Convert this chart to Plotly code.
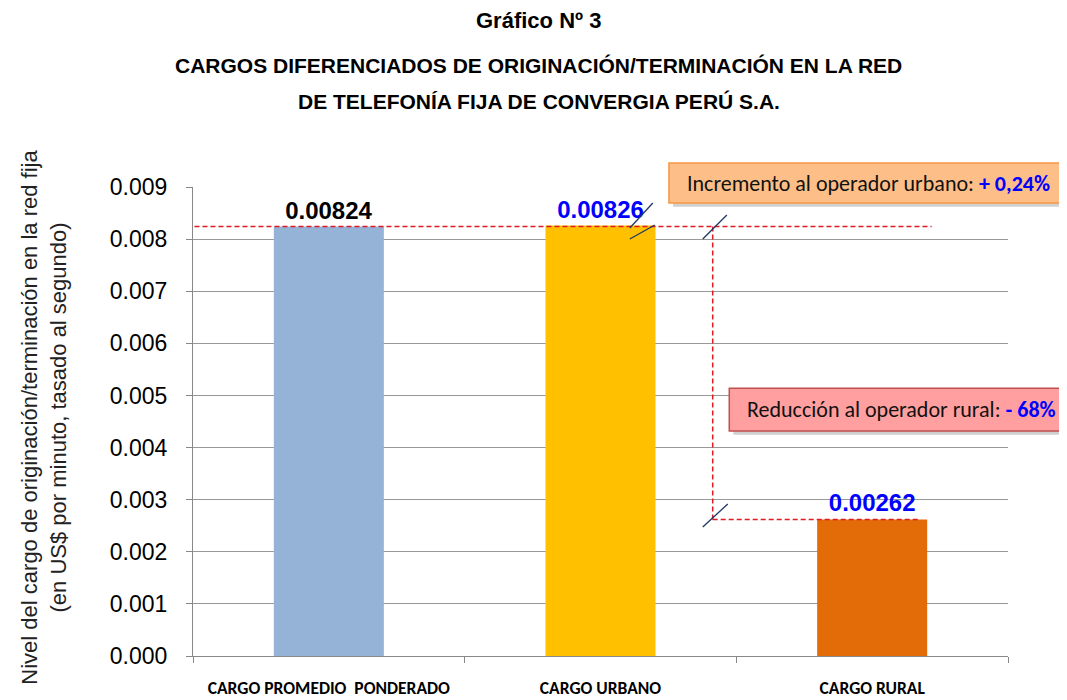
import plotly.graph_objects as go

categories = ["CARGO PROMEDIO  PONDERADO", "CARGO URBANO", "CARGO RURAL"]
values = [0.00824, 0.00826, 0.00262]
labels = ["0.00824", "0.00826", "0.00262"]
bar_colors = ["#95B3D7", "#FFC000", "#E36C09"]
label_colors = ["#000000", "#0000FF", "#0000FF"]
y_ticks = [0.000, 0.001, 0.002, 0.003, 0.004, 0.005, 0.006, 0.007, 0.008, 0.009]
y_ticklabels = ["0.000", "0.001", "0.002", "0.003", "0.004", "0.005", "0.006", "0.007", "0.008", "0.009"]

FONT = "Liberation Sans, Arial, sans-serif"
NARROW = "Carlito, Liberation Sans Narrow, Arial Narrow, sans-serif"

fig = go.Figure()
fig.add_trace(go.Bar(
    x=categories, y=values, width=0.405,
    marker=dict(color=bar_colors, line=dict(width=0)),
    text=labels, textposition="outside", cliponaxis=False,
    textfont=dict(family=FONT, size=24, color=label_colors, weight="bold"),
))

base = values[0]
urb = values[1]
rur = values[2]
dash = dict(color="#E01B24", width=1.5, dash="5px,3px")
slash = dict(color="#1F3864", width=1.3)
shapes = [
    dict(type="line", xref="x", yref="y", x0=-0.4945, x1=2.219, y0=base, y1=base, line=dash),
    dict(type="line", xref="x", yref="y", x0=1.413, x1=1.413, y0=base, y1=rur, line=dash),
    dict(type="line", xref="x", yref="y", x0=1.413, x1=2.175, y0=rur, y1=rur, line=dash),
    # break marks
    dict(type="line", xref="x", yref="y", x0=1.108, x1=1.1925, y0=base - 0.000027, y1=base + 0.000453, line=slash),
    dict(type="line", xref="x", yref="y", x0=1.108, x1=1.20, y0=base - 0.000238, y1=base + 0.000031, line=slash),
    dict(type="line", xref="x", yref="y", x0=1.3765, x1=1.465, y0=base - 0.000238, y1=base + 0.000223, line=slash),
    dict(type="line", xref="x", yref="y", x0=1.3765, x1=1.4685, y0=rur - 0.000144, y1=rur + 0.000297, line=slash),
    # box shadows
    dict(type="rect", xref="paper", yref="paper", x0=0.589, x1=1.09, y0=0.958, y1=1.043,
         fillcolor="rgba(120,120,120,0.35)", line=dict(width=0)),
    dict(type="rect", xref="paper", yref="paper", x0=0.663, x1=1.09, y0=0.472, y1=0.563,
         fillcolor="rgba(120,120,120,0.35)", line=dict(width=0)),
    # boxes
    dict(type="rect", xref="paper", yref="paper", x0=0.584, x1=1.085, y0=0.966, y1=1.051,
         fillcolor="#FDBF87", line=dict(color="#F79646", width=1.5)),
    dict(type="rect", xref="paper", yref="paper", x0=0.658, x1=1.085, y0=0.480, y1=0.571,
         fillcolor="#FF9F9F", line=dict(color="#C0504D", width=1.5)),
]

annotations = [
    dict(text="<b>Gráfico Nº 3</b>", xref="paper", yref="paper", x=0.4245, y=1.356,
         showarrow=False, font=dict(family=FONT, size=22, color="#000"), xanchor="center", yanchor="middle"),
    dict(text="<b>CARGOS DIFERENCIADOS DE ORIGINACIÓN/TERMINACIÓN EN LA RED</b>", xref="paper", yref="paper",
         x=0.4245, y=1.258, showarrow=False, font=dict(family=FONT, size=21, color="#000"),
         xanchor="center", yanchor="middle"),
    dict(text="<b>DE TELEFONÍA FIJA DE CONVERGIA PERÚ S.A.</b>", xref="paper", yref="paper",
         x=0.4245, y=1.183, showarrow=False, font=dict(family=FONT, size=21, color="#000"),
         xanchor="center", yanchor="middle"),
    dict(text="Incremento al operador urbano: <b><span style='color:#0000FF'>+ 0,24%</span></b>",
         xref="paper", yref="paper", x=0.6037, y=1.0085, showarrow=False, xanchor="left", yanchor="middle",
         font=dict(family=NARROW, size=22, color="#111")),
    dict(text="Reducción al operador rural: <b><span style='color:#0000FF'>- 68%</span></b>",
         xref="paper", yref="paper", x=0.677, y=0.5266, showarrow=False, xanchor="left", yanchor="middle",
         font=dict(family=NARROW, size=22, color="#111")),
    dict(text="Nivel del cargo de originación/terminación en la red fija<br>(en US$ por minuto, tasado al segundo)",
         xref="paper", yref="paper", x=-0.183, y=0.51, textangle=-90, showarrow=False,
         xanchor="center", yanchor="middle", font=dict(family=FONT, size=22, color="#222")),
]

fig.update_layout(
    width=1067, height=700,
    margin=dict(l=185, r=67, t=179, b=52),
    paper_bgcolor="white", plot_bgcolor="white",
    showlegend=False, bargap=0.6,
    shapes=shapes, annotations=annotations,
    font=dict(family=FONT),
)
fig.update_yaxes(
    range=[0, 0.009], tickvals=y_ticks, ticktext=y_ticklabels,
    showgrid=True, gridcolor="#999999", gridwidth=1.2,
    showline=True, linecolor="#888888", linewidth=1.2,
    ticks="outside", ticklen=6, tickcolor="#888888",
    tickfont=dict(family=FONT, size=23, color="#000"),
    ticklabelstandoff=14, automargin=False,
    zeroline=False,
)
fig.update_xaxes(
    showline=True, linecolor="#888888", linewidth=1.2,
    ticks="outside", ticklen=6, tickcolor="#888888", tickson="boundaries",
    tickfont=dict(family=NARROW, size=17.5, color="#000", weight="bold"),
    ticklabelstandoff=16, automargin=False,
)

fig.write_html("out.html")
